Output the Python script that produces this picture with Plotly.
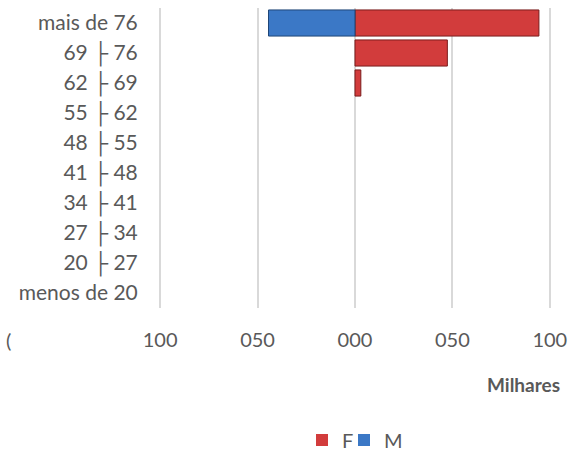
import plotly.graph_objects as go

categories = ["menos de 20", "20 ├ 27", "27 ├ 34", "34 ├ 41", "41 ├ 48",
              "48 ├ 55", "55 ├ 62", "62 ├ 69", "69 ├ 76", "mais de 76"]
F_values = [0, 0, 0, 0, 0, 0, 0, 3, 47.4, 94.4]
M_values = [0, 0, 0, 0, 0, 0, 0, 0, 0, -44.4]
tick_vals = [-100, -50, 0, 50, 100]
tick_text = ["100", "050", "000", "050", "100"]

font_family = "Lato, Open Sans, sans-serif"
grey = "#595959"

def lw(vals):
    return [1 if v != 0 else 0 for v in vals]

fig = go.Figure()
fig.add_trace(go.Bar(
    y=categories, x=F_values, orientation="h", name="F", legend="legend",
    marker=dict(color="#d23c3c", line=dict(color="#7a1c1c", width=lw(F_values))),
))
fig.add_trace(go.Bar(
    y=categories, x=M_values, orientation="h", name="M", legend="legend2",
    marker=dict(color="#3b78c6", line=dict(color="#1e4577", width=lw(M_values))),
))

PL, PW, PT, PH = 159, 392, 8, 300
def px(x):
    return (x - PL) / PW
def py(y):
    return (PT + PH - y) / PH

legend_common = dict(orientation="h", xanchor="left", yanchor="middle", y=py(440),
                     font=dict(size=20, color=grey), itemwidth=30,
                     bgcolor="rgba(0,0,0,0)", borderwidth=0)

fig.update_layout(
    width=585, height=459,
    margin=dict(l=PL, r=585 - PL - PW, t=PT, b=459 - PT - PH, autoexpand=False),
    plot_bgcolor="white", paper_bgcolor="white",
    barmode="relative", bargap=0.13,
    font=dict(family=font_family, size=20, color=grey),
    showlegend=True,
    legend=dict(x=px(322 - 20), **legend_common),
    legend2=dict(x=px(364 - 20), **legend_common),
    xaxis=dict(range=[-100.6, 100.6], tickvals=tick_vals, ticktext=tick_text,
               showgrid=True, gridcolor="#d9d9d9", gridwidth=1.5,
               zeroline=True, zerolinecolor="#d9d9d9", zerolinewidth=1.5,
               ticks="outside", ticklen=14, tickcolor="rgba(0,0,0,0)",
               showline=False, automargin=False, tickfont=dict(size=20, color=grey)),
    yaxis=dict(type="category", categoryorder="array", categoryarray=categories,
               showgrid=False, showline=False, automargin=False,
               ticks="outside", ticklen=16, tickcolor="rgba(0,0,0,0)",
               tickfont=dict(size=21, color=grey)),
    annotations=[
        dict(text="<b>Milhares</b>", xref="paper", yref="paper",
             x=px(562), xanchor="right", y=py(384), yanchor="middle",
             showarrow=False, font=dict(size=19, color=grey)),
        dict(text="(", xref="paper", yref="paper",
             x=px(8), xanchor="center", y=py(340), yanchor="middle",
             showarrow=False, font=dict(size=20, color=grey)),
    ],
)

fig.write_html("out.html", config={"displayModeBar": False},
               post_script="document.body.style.margin='0';")
